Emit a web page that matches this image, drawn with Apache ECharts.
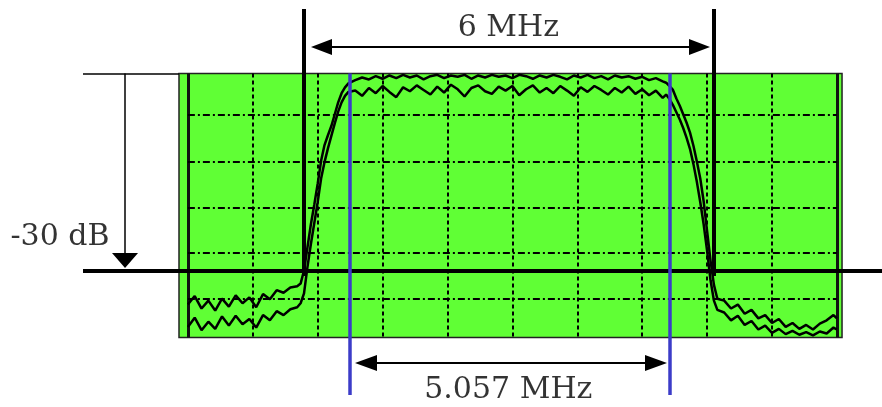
<!DOCTYPE html>
<html>
<head>
<meta charset="utf-8">
<title>6 MHz channel spectrum</title>
<script src="https://cdn.jsdelivr.net/npm/echarts@6/dist/echarts.min.js"></script>
<style>
    html, body { margin: 0; padding: 0; background: #fff; }
    #chart { width: 882px; height: 407px; }
</style>
</head>
<body>
<div id="chart"></div>
<script>
// frequency offset from the channel centre (MHz)
const freqMHz = [
    -4.75, -4.65, -4.55, -4.45, -4.35, -4.25, -4.15, -4.05, -3.95, -3.85, -3.75, -3.65, -3.55, -3.45, -3.35, -3.25, -3.15,
    -3.1, -3.05, -3.0, -2.95, -2.9, -2.85, -2.8, -2.75, -2.7, -2.65, -2.6, -2.55, -2.5, -2.45, -2.4,
    -2.3, -2.2, -2.1, -2.0, -1.9, -1.8, -1.7, -1.6, -1.5, -1.4, -1.3, -1.2, -1.1, -1.0, -0.9, -0.8, -0.7, -0.6, -0.5, -0.4, -0.3, -0.2, -0.1,
    0, 0.1, 0.2, 0.3, 0.4, 0.5, 0.6, 0.7, 0.8, 0.9, 1.0, 1.1, 1.2, 1.3, 1.4, 1.5, 1.6, 1.7, 1.8, 1.9, 2.0, 2.1, 2.2,
    2.25, 2.3, 2.35, 2.4, 2.45, 2.5, 2.55, 2.6, 2.65, 2.7, 2.75, 2.8, 2.85, 2.9, 2.95, 3.0,
    3.1, 3.2, 3.3, 3.4, 3.5, 3.6, 3.7, 3.8, 3.9, 4.0, 4.1, 4.2, 4.3, 4.4, 4.5, 4.6, 4.7, 4.75
];
// level relative to top of screen (dB), two sweeps
const traceUpper = [
    -35.2, -33.9, -35.8, -34.6, -36.1, -34.3, -35.5, -33.8, -35.0, -34.1, -35.6, -33.6, -34.4, -33.0, -33.4, -32.6, -32.4,
    -32.0, -30.0, -26.5, -23.0, -20.0, -16.8, -13.3, -10.9, -9.4, -8.0, -6.2, -4.4, -3.0, -2.1, -1.5,
    -1.0, -0.6, -0.9, -0.4, -0.8, -0.3, -0.7, -0.2, -0.6, -0.3, -0.9, -0.4, -0.2, -0.7, -0.3, -0.5, -0.2, -0.8, -0.3, -0.6, -0.2, -0.5, -0.3,
    -0.7, -0.2, -0.4, -0.8, -0.3, -0.6, -0.2, -0.5, -0.9, -0.3, -0.6, -0.2, -0.7, -0.4, -0.9, -0.3, -0.6, -0.4, -0.8, -0.5, -1.0, -0.7, -1.2,
    -1.4, -1.9, -2.5, -3.8, -4.9, -6.2, -7.5, -9.0, -11.0, -13.4, -16.0, -19.5, -24.0, -28.5, -32.2, -34.3,
    -34.6, -35.8, -35.2, -36.6, -36.0, -37.3, -36.8, -38.0, -37.4, -38.6, -38.0, -38.9, -38.3, -39.0, -38.1, -37.6, -36.8, -37.3
];
const traceLower = [
    -38.6, -37.2, -39.1, -37.8, -38.9, -37.0, -38.4, -36.9, -38.2, -37.4, -38.7, -36.8, -37.6, -36.2, -36.8, -35.9, -35.6,
    -35.0, -33.5, -29.5, -26.0, -22.8, -19.6, -16.0, -13.5, -11.4, -9.5, -7.6, -5.8, -4.4, -3.4, -2.8,
    -2.6, -3.4, -2.2, -3.0, -1.9, -2.8, -3.6, -2.1, -2.7, -1.8, -2.5, -3.2, -2.0, -2.9, -1.7, -2.4, -3.5, -2.2, -1.8, -2.7, -3.1, -2.0, -2.6,
    -1.9, -3.3, -2.4, -1.8, -2.9, -2.2, -3.0, -1.9, -2.6, -3.4, -2.1, -2.8, -1.9, -2.5, -3.2, -2.2, -2.9, -2.0, -3.1, -2.4, -3.3, -2.6, -3.7,
    -3.2, -3.9, -4.8, -5.9, -7.0, -8.3, -9.8, -11.5, -13.8, -16.5, -19.6, -23.0, -27.0, -31.5, -34.6, -36.0,
    -36.4, -37.6, -36.9, -38.3, -37.7, -39.0, -38.4, -39.5, -38.9, -39.7, -39.2, -39.8, -39.4, -39.9, -39.3, -39.6, -38.7, -39.0
];

// screen graticule
const gridFreqs = [-3.8, -2.85, -1.9, -0.95, 0, 0.95, 1.9, 2.85, 3.8];
const gridLevels = [-6.3, -13.5, -20.4, -27.3, -34.3];

// annotations
const bandEdges = [-3.05, 2.95];    // 6 MHz
const blueEdges = [-2.377, 2.30];   // 5.057 MHz
const refLevel = -30;
const labels = ['6 MHz', '5.057 MHz', '-30 dB'];

// layout in axis units (whole canvas is one cartesian grid)
const view = { xMin: -7.5, xMax: 5.41, yMin: -50.8, yMax: 11.2 };
const screen = { left: -4.75, right: 4.75, top: 0, bottom: -40.2 };
const frameOuter = [-4.88, 4.825];
const leaderStart = -6.285;
const bandTop = 9.83, bandBottom = -30.84, blueBottom = -48.97;

const GREEN = '#60ff35';
const BLUE = '#3c3cc8';
const FONT = 'DejaVu Serif';

const seg = (x1, y1, x2, y2) => ({ coords: [[x1, y1], [x2, y2]] });

const linesSeries = (z, data, lineStyle, extra) => Object.assign({
    type: 'lines',
    coordinateSystem: 'cartesian2d',
    z: z,
    silent: true,
    data: data,
    lineStyle: Object.assign({ color: '#000', opacity: 1, width: 2 }, lineStyle)
}, extra || {});

let chart = echarts.init(document.getElementById('chart'));
let option = {
    animation: false,
    backgroundColor: '#fff',
    grid: { left: 0, right: 0, top: 0, bottom: 0 },
    xAxis: { type: 'value', min: view.xMin, max: view.xMax, show: false },
    yAxis: { type: 'value', min: view.yMin, max: view.yMax, show: false },
    series: [
        {
            type: 'custom',
            z: 1,
            silent: true,
            clip: false,
            data: [[frameOuter[0], screen.top, frameOuter[1], screen.bottom]],
            renderItem(params, api) {
                const p0 = api.coord([api.value(0), api.value(1)]);
                const p1 = api.coord([api.value(2), api.value(3)]);
                return {
                    type: 'rect',
                    shape: { x: p0[0], y: p0[1], width: p1[0] - p0[0], height: p1[1] - p0[1] },
                    style: { fill: GREEN, stroke: '#222', lineWidth: 1.5 }
                };
            }
        },
        // inner frame edges
        linesSeries(2, [
            seg(screen.left, screen.top, screen.left, screen.bottom),
            seg(screen.right, screen.top, screen.right, screen.bottom)
        ], { width: 3, color: '#111' }),
        // vertical graticule
        linesSeries(2, gridFreqs.map(f => seg(f, screen.top, f, screen.bottom)),
            { width: 2, type: [4, 3] }),
        // horizontal graticule
        linesSeries(2, gridLevels.map(v => seg(screen.left, v, screen.right, v)),
            { width: 2, type: [7, 3, 2, 3] }),
        {
            type: 'line',
            z: 3,
            silent: true,
            showSymbol: false,
            data: freqMHz.map((f, i) => [f, traceLower[i]]),
            lineStyle: { color: '#000', width: 2.5 }
        },
        {
            type: 'line',
            z: 3,
            silent: true,
            showSymbol: false,
            data: freqMHz.map((f, i) => [f, traceUpper[i]]),
            lineStyle: { color: '#000', width: 2.5 }
        },
        // reference level lines and 6 MHz edges
        linesSeries(4, [seg(leaderStart, screen.top, frameOuter[0], screen.top)], { width: 1.5 }),
        linesSeries(4, [seg(leaderStart, refLevel, view.xMax, refLevel)], { width: 4 }),
        linesSeries(4, bandEdges.map(f => seg(f, bandTop, f, bandBottom)), { width: 4 }),
        // arrows
        linesSeries(4, [seg(-2.794, 4.04, 2.739, 4.04)], { width: 2 },
            { symbol: ['triangle', 'triangle'], symbolSize: [[16, 21], [16, 21]] }),
        linesSeries(4, [seg(-2.143, -44.1, 2.102, -44.1)], { width: 2 },
            { symbol: ['triangle', 'triangle'], symbolSize: [[16, 22], [16, 22]] }),
        linesSeries(4, [seg(-5.67, screen.top, -5.67, -28.48)], { width: 1.5 },
            { symbol: ['none', 'triangle'], symbolSize: [[26, 15], [26, 15]] }),
        // 5.057 MHz edges
        linesSeries(5, blueEdges.map(f => seg(f, screen.top, f, blueBottom)), { width: 3.5, color: BLUE }),
        {
            type: 'scatter',
            z: 6,
            silent: true,
            symbolSize: 1,
            itemStyle: { color: 'rgba(0,0,0,0)' },
            label: {
                show: true,
                formatter: '{b}',
                color: '#000',
                fontFamily: FONT,
                fontSize: 30,
                position: 'inside'
            },
            data: [
                { name: labels[0], value: [-0.06, 6.9] },
                { name: labels[1], value: [-0.06, -48.2] },
                { name: labels[2], value: [-7.354, -24.9], label: { position: 'right', distance: 0 } }
            ]
        }
    ]
};
option && chart.setOption(option);
</script>
</body>
</html>
